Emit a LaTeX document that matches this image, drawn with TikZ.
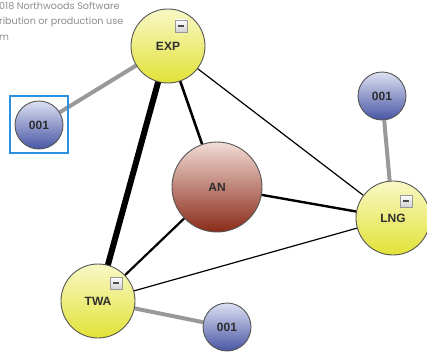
\documentclass[tikz,border=0pt]{standalone}
\usepackage{fontspec}
\setmainfont{Liberation Sans}
\newfontfamily\wmfont{Poppins}
\usetikzlibrary{backgrounds}

\definecolor{ylwtop}{HTML}{F8F8C6}
\definecolor{ylwbot}{HTML}{E2E238}
\definecolor{blutop}{HTML}{DCE0F2}
\definecolor{blubot}{HTML}{4856A4}
\definecolor{redtop}{HTML}{F2DCD6}
\definecolor{redbot}{HTML}{8A2A18}
\definecolor{rim}{HTML}{555555}
\definecolor{label}{HTML}{2E2E2E}
\definecolor{grayedge}{HTML}{999999}
\definecolor{selblue}{HTML}{2A90E0}
\definecolor{wmgray}{HTML}{8C8C8C}

\tikzset{
  bubble/.style={circle, draw=rim, line width=0.9pt, inner sep=0pt,
    text=label, font=\bfseries\fontsize{12}{12}\selectfont},
  topicnode/.style={bubble, minimum size=74pt, top color=ylwtop, bottom color=ylwbot},
  leafnode/.style={bubble, minimum size=48pt, top color=blutop, bottom color=blubot},
  hubnode/.style={bubble, minimum size=90pt, top color=redtop, bottom color=redbot},
  collapser/.style={rectangle, draw=black!40, line width=0.6pt, minimum size=12pt,
    inner sep=0pt, top color=white, bottom color=black!18},
  link/.style={draw=black, line cap=round},
  leaflink/.style={draw=grayedge, line width=4pt},
  watermark/.style={anchor=west, inner sep=0pt, text=wmgray,
    font=\wmfont\fontsize{9.6}{9.6}\selectfont}
}

\begin{document}
\begin{tikzpicture}[x=1pt, y=-1pt]
\useasboundingbox (0,0) rectangle (427,353);

% watermark lines
\node[watermark] (wm1) at (-1,6)  {018 Northwoods Software};
\node[watermark] (wm2) at (-1,22) {ribution or production use};
\node[watermark] (wm3) at (-1,38) {m};

% nodes
\node[topicnode] (exp) at (168,46)  {EXP};
\node[topicnode] (lng) at (393,218) {LNG};
\node[topicnode] (twa) at (98,301)  {TWA};
\node[hubnode]   (an)  at (217,187) {AN};
\node[leafnode]  (l1)  at (39,125)  {001};
\node[leafnode]  (l2)  at (382,96)  {001};
\node[leafnode]  (l3)  at (227,327) {001};

% collapse buttons
\foreach \n/\x/\y in {bexp/181/26, blng/406/201, btwa/116/283} {
  \node[collapser] (\n) at (\x,\y) {};
  \draw[black!70, line width=1.2pt] ([xshift=-3pt]\n.center) -- ([xshift=3pt]\n.center);
}

% selection frame
\node[draw=selblue, line width=2.5pt, rectangle, minimum width=58pt,
      minimum height=57pt, inner sep=0pt] (sel) at (39,124.5) {};

% links
\begin{scope}[on background layer]
  \draw[leaflink] (exp) -- (l1);
  \draw[leaflink] (lng) -- (l2);
  \draw[leaflink] (twa) -- (l3);
  \draw[link, line width=6pt]   (exp) -- (twa);
  \draw[link, line width=2.6pt] (exp) -- (an);
  \draw[link, line width=1.2pt] (exp) -- (lng);
  \draw[link, line width=2.4pt] (an)  -- (lng);
  \draw[link, line width=2.2pt] (an)  -- (twa);
  \draw[link, line width=1.2pt] (twa) -- (lng);
\end{scope}
\end{tikzpicture}
\end{document}
